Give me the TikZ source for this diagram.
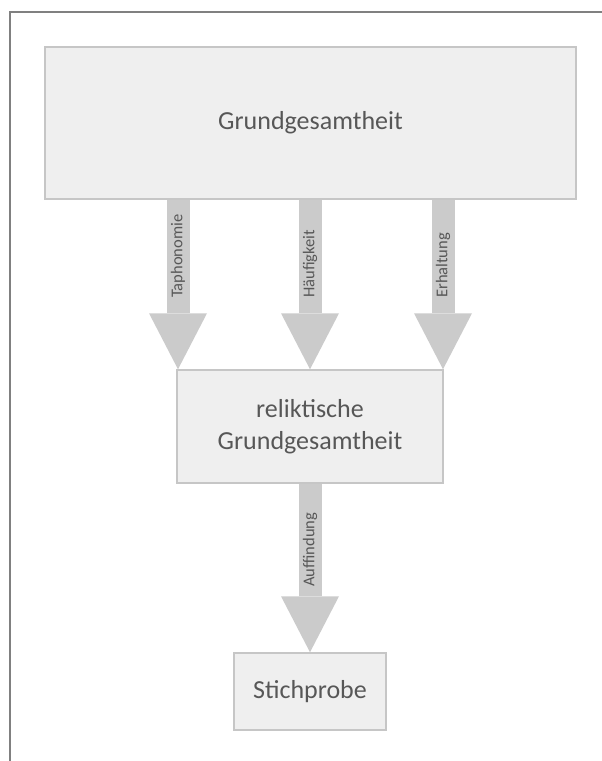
\documentclass[tikz,border=0pt]{standalone}
\usepackage{fontspec}
\setmainfont{Carlito}
\usetikzlibrary{arrows.meta}
\definecolor{boxfill}{HTML}{EFEFEF}
\definecolor{boxline}{HTML}{C6C6C6}
\definecolor{flow}{HTML}{CBCBCB}
\definecolor{ink}{HTML}{575757}
\definecolor{framegray}{HTML}{808080}
\begin{document}
\begin{tikzpicture}[x=1pt,y=-1pt,
  stage/.style={draw=boxline, fill=boxfill, line width=1.5pt, text=ink,
    font=\fontsize{26}{32}\selectfont, align=center, inner sep=0pt},
  flowarrow/.style={draw=flow, line width=23pt,
    -{Triangle[width=58pt,length=56pt,line width=0pt]}},
  flowlabel/.style={text=ink, font=\fontsize{16.5}{18}\selectfont,
    rotate=90, anchor=west, inner sep=0pt}]
\useasboundingbox (0,0) rectangle (602,761);
\fill[white] (0,0) rectangle (602,761);
% page frame (top and left edges)
\draw[framegray, line width=1.5pt] (10,761) -- (10,12) -- (602,12);

% stages
\node[stage, minimum width=531pt, minimum height=152pt] (pop) at (310.5,123) {Grundgesamtheit};
\node[stage, minimum width=266pt, minimum height=113pt] (relic) at (310,426.5) {reliktische\\Grundgesamtheit};
\node[stage, minimum width=152pt, minimum height=77pt] (sample) at (310,691.5) {Stichprobe};

% columns of the filter arrows
\coordinate (c1) at (178,0);
\coordinate (c2) at (310,0);
\coordinate (c3) at (443,0);

\draw[flowarrow] (pop.south -| c1) -- (relic.north -| c1);
\draw[flowarrow] (pop.south -| c2) -- (relic.north -| c2);
\draw[flowarrow] (pop.south -| c3) -- (relic.north -| c3);
\draw[flowarrow] (relic.south -| c2) -- (sample.north -| c2);

\node[flowlabel] (l1) at (178,298) {Taphonomie};
\node[flowlabel] (l2) at (310,298) {Häufigkeit};
\node[flowlabel] (l3) at (443,298) {Erhaltung};
\node[flowlabel] (l4) at (310,587) {Auffindung};
\end{tikzpicture}
\end{document}
